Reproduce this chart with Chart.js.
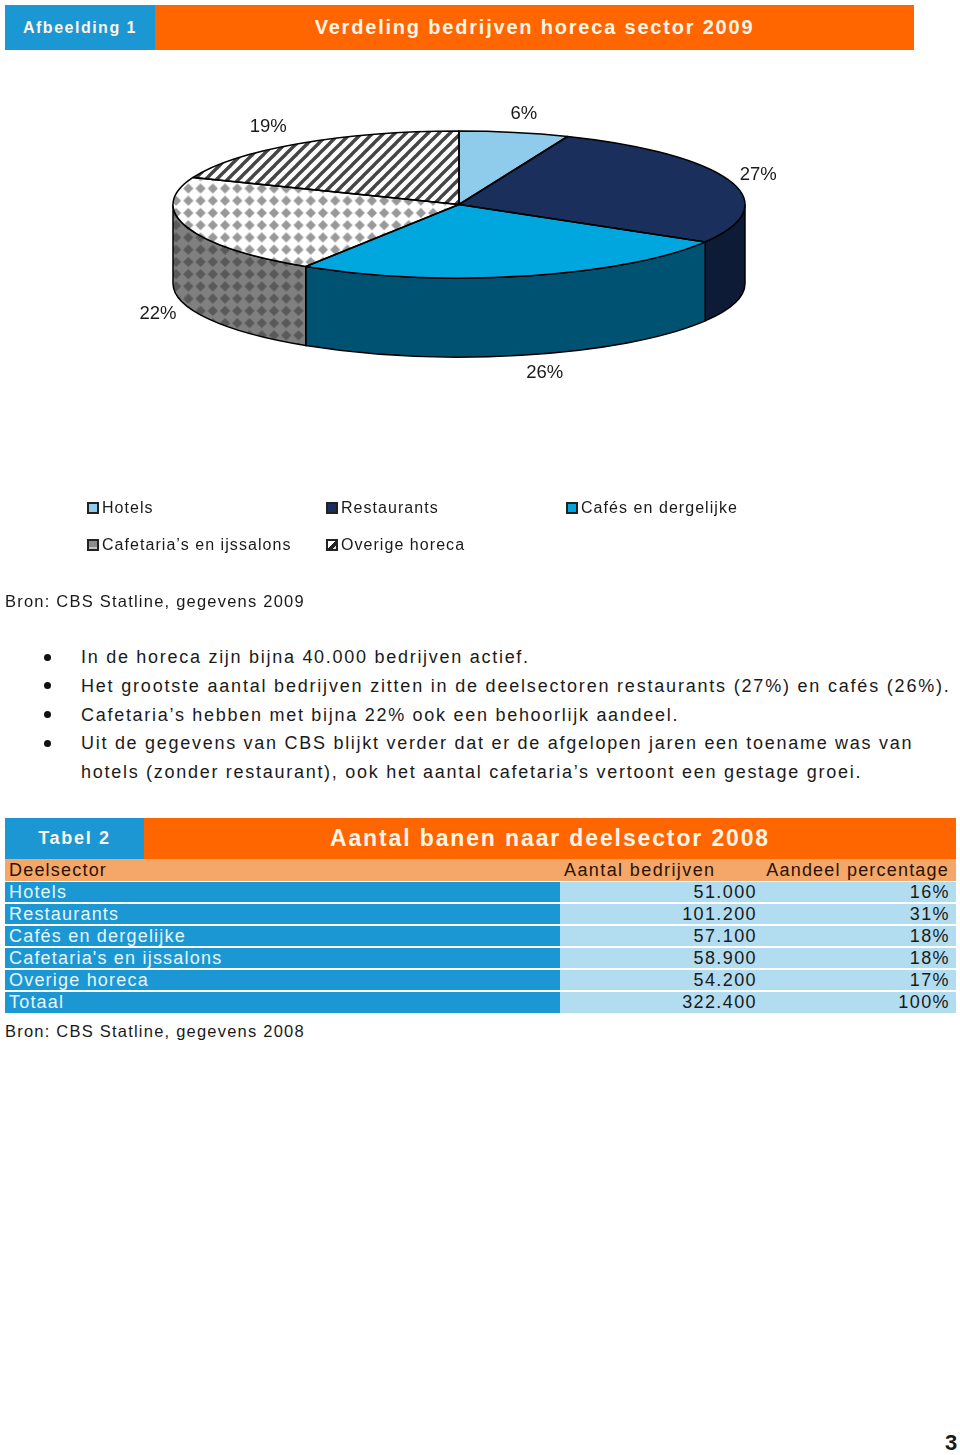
<!DOCTYPE html>
<html lang="nl">
<head>
<meta charset="utf-8">
<title>Verdeling bedrijven horeca sector 2009</title>
<script src="https://cdn.jsdelivr.net/npm/chart.js@4/dist/chart.umd.min.js"></script>
<style>
body { margin: 0; background: #fff; width: 960px; height: 1455px; position: relative; overflow: hidden;
       font-family: "Liberation Sans", Arial, sans-serif; color: #1a1a1a; }
.abs { position: absolute; white-space: nowrap; }
.band { position: absolute; color: #fff4e8; font-weight: bold; text-align: center; }
#pie { position: absolute; left: 0; top: 0; }
.leg { font-size: 16px; letter-spacing: 1.05px; line-height: 20px; }
.swatch { position: absolute; width: 8px; height: 8px; border: 2px solid #222; }
.src { font-size: 16.5px; letter-spacing: 1.22px; line-height: 20px; }
.txt { font-size: 18px; letter-spacing: 1.72px; line-height: 24px; }
.dot { position: absolute; left: 43.5px; width: 7px; height: 7px; border-radius: 50%; background: #111; }
.cell { position: absolute; font-size: 18px; letter-spacing: 1.2px; line-height: 22px; white-space: nowrap; }
.num { letter-spacing: 1.4px; }
.fill { position: absolute; }
</style>
</head>
<body>
<div class="band" style="left:5px;top:5px;width:150px;height:45px;background:#1b98d4;font-size:16px;letter-spacing:1.5px;line-height:45px">Afbeelding 1</div>
<div class="band" style="left:155px;top:5px;width:759px;height:45px;background:#ff6600;font-size:20px;letter-spacing:1.8px;line-height:45px">Verdeling bedrijven horeca sector 2009</div>

<canvas id="pie" width="960" height="600"></canvas>

<div id="legend"></div>
<div class="abs src" style="left:5px;top:591px">Bron: CBS Statline, gegevens 2009</div>
<div id="bullets"></div>

<div class="band" style="left:5px;top:818px;width:139px;height:41px;background:#1b98d4;font-size:18px;letter-spacing:1.7px;line-height:41px">Tabel 2</div>
<div class="band" style="left:144px;top:818px;width:812px;height:41px;background:#ff6600;font-size:23px;letter-spacing:1.87px;line-height:41px">Aantal banen naar deelsector 2008</div>
<div id="table"></div>
<div class="abs src" style="left:5px;top:1021px">Bron: CBS Statline, gegevens 2008</div>
<div class="abs" style="left:945px;top:1431px;font-size:22px;font-weight:bold;line-height:24px">3</div>

<script>
// Pie data, read from the wedge edges (labels show them rounded)
const sectorLabels = ["Hotels", "Restaurants", "Cafés en dergelijke", "Cafetaria’s en ijssalons", "Overige horeca"];
const sectorShares = [6.2, 27.3, 25.5, 22, 19];

// Table data
const tableHeads = ["Deelsector", "Aantal bedrijven", "Aandeel percentage"];
const tableSectors = ["Hotels", "Restaurants", "Cafés en dergelijke", "Cafetaria's en ijssalons", "Overige horeca", "Totaal"];
const tableCompanies = ["51.000", "101.200", "57.100", "58.900", "54.200", "322.400"];
const tablePercents = ["16%", "31%", "18%", "18%", "17%", "100%"];

// Text under the legend
const bulletLines = [
    "In de horeca zijn bijna 40.000 bedrijven actief.",
    "Het grootste aantal bedrijven zitten in de deelsectoren restaurants (27%) en cafés (26%).",
    "Cafetaria’s hebben met bijna 22% ook een behoorlijk aandeel.",
    "Uit de gegevens van CBS blijkt verder dat er de afgelopen jaren een toename was van",
    "hotels (zonder restaurant), ook het aantal cafetaria’s vertoont een gestage groei."
];

// Pie shape on the page
const centerX = 459, centerY = 204.5, radiusY = 73.5, depth = 79;

// Offsets of the % labels from the rim of their wedge
const labelNudge = [[9.5, -18.5], [28, -6], [19, 18], [-29, 8], [-30, -17]];

function tile(size, paint) {
    const c = document.createElement("canvas");
    c.width = c.height = size;
    paint(c.getContext("2d"), size);
    return c;
}

function diamondTile(bg, fg) {
    return tile(12, (g, s) => {
        g.fillStyle = bg;
        g.fillRect(0, 0, s, s);
        g.fillStyle = fg;
        g.beginPath();
        g.moveTo(6, 1);
        g.lineTo(11, 6);
        g.lineTo(6, 11);
        g.lineTo(1, 6);
        g.closePath();
        g.fill();
    });
}

function hatchTile() {
    return tile(11, (g, s) => {
        g.fillStyle = "#fff";
        g.fillRect(0, 0, s, s);
        g.strokeStyle = "#454545";
        g.lineWidth = 3.4;
        // lines run past the tile so their ends leave no notches at the corners
        [-s, 0, s].forEach(off => {
            g.beginPath();
            g.moveTo(off - s, 2 * s);
            g.lineTo(off + 2 * s, -s);
            g.stroke();
        });
    });
}

const ctx = document.getElementById("pie").getContext("2d");
const diamondTop = ctx.createPattern(diamondTile("#fff", "#999"), "repeat");
const diamondWall = ctx.createPattern(diamondTile("#808080", "#595959"), "repeat");
const hatchTop = ctx.createPattern(hatchTile(), "repeat");

// Where the diamond lattice sits on the page
const diamondGrid = new DOMMatrix().translate(-1.42, -1.26).scale(1.02);
diamondWall.setTransform(diamondGrid);

const topColors = ["#8fcbea", "#1a2f5c", "#00a6de", diamondTop, hatchTop];
const wallColors = ["#6d9ab2", "#0e1b36", "#005272", diamondWall, "#666666"];

// Squashes the pie into an ellipse and adds the wall under its front half
const tiltPlugin = {
    id: "tilt",
    beforeDatasetsDraw(chart) {
        const c = chart.ctx;
        const arcs = chart.getDatasetMeta(0).data;
        const rx = arcs[0].outerRadius;
        c.lineWidth = 1.5;
        c.strokeStyle = "#000";
        arcs.forEach((arc, i) => {
            const a0 = Math.max(arc.startAngle, 0);
            const a1 = Math.min(arc.endAngle, Math.PI);
            if (a1 <= a0) return;
            c.beginPath();
            c.ellipse(centerX, centerY, rx, radiusY, 0, a0, a1);
            c.ellipse(centerX, centerY + depth, rx, radiusY, 0, a1, a0, true);
            c.closePath();
            c.fillStyle = wallColors[i];
            c.fill();
            c.stroke();
        });
        c.save();
        c.translate(centerX, centerY);
        c.scale(1, radiusY / rx);
        c.translate(-arcs[0].x, -arcs[0].y);
        // keep the top patterns unsquashed
        const undo = c.getTransform().inverse();
        diamondTop.setTransform(undo.multiply(diamondGrid));
        hatchTop.setTransform(undo);
    },
    afterDatasetsDraw(chart) {
        const c = chart.ctx;
        c.restore();
        const arcs = chart.getDatasetMeta(0).data;
        c.lineWidth = 1.5;
        c.strokeStyle = "#000";
        c.lineJoin = "round";
        arcs.forEach(arc => {
            c.beginPath();
            c.moveTo(centerX, centerY);
            c.ellipse(centerX, centerY, arc.outerRadius, radiusY, 0, arc.startAngle, arc.endAngle);
            c.closePath();
            c.stroke();
        });
        // % labels
        c.fillStyle = "#1a1a1a";
        c.font = '18.5px "Liberation Sans", Arial, sans-serif';
        c.textAlign = "center";
        c.textBaseline = "middle";
        arcs.forEach((arc, i) => {
            const mid = (arc.startAngle + arc.endAngle) / 2;
            const sin = Math.sin(mid);
            const x = centerX + arc.outerRadius * Math.cos(mid) + labelNudge[i][0];
            const y = centerY + radiusY * sin + (sin > 0 ? depth : 0) + labelNudge[i][1];
            c.fillText(Math.round(chart.data.datasets[0].data[i]) + "%", x, y);
        });
    }
};

const chart = new Chart(ctx, {
    type: "pie",
    data: {
        labels: sectorLabels,
        datasets: [{ data: sectorShares, backgroundColor: topColors, borderWidth: 0, hoverOffset: 0 }]
    },
    options: {
        responsive: false,
        animation: false,
        layout: { padding: { left: 0, right: 42, top: 14, bottom: 14 } },
        plugins: { legend: { display: false }, tooltip: { enabled: false } }
    },
    plugins: [tiltPlugin]
});

// Legend, three columns
const legendBox = document.getElementById("legend");
const swatchStyles = [
    "background:#8fcbea",
    "background:#1a2f5c",
    "background:#00a6de",
    "background:linear-gradient(#8c8c8c 75%,#c4c4c4 75%)",
    "background:linear-gradient(135deg,#fff 48%,#222 48%,#222 78%,#ddd 78%)"
];
sectorLabels.forEach((label, i) => {
    const left = [87, 326, 566][i % 3];
    const top = i < 3 ? 502 : 539;
    legendBox.insertAdjacentHTML("beforeend",
        `<div class="swatch" style="left:${left}px;top:${top}px;${swatchStyles[i]}"></div>` +
        `<div class="abs leg" style="left:${left + 15}px;top:${top - 4}px">${label}</div>`);
});

// Bullet list
const bulletBox = document.getElementById("bullets");
bulletLines.forEach((line, i) => {
    const top = 645 + i * 28.8;
    const extra = i === 1 ? "letter-spacing:1.8px;" : "";
    if (i < 4) bulletBox.insertAdjacentHTML("beforeend", `<div class="dot" style="top:${top + 8.5}px"></div>`);
    bulletBox.insertAdjacentHTML("beforeend", `<div class="abs txt" style="${extra}left:81px;top:${top}px">${line}</div>`);
});

// Table rows
const tableBox = document.getElementById("table");
function addFill(left, top, width, height, color) {
    tableBox.insertAdjacentHTML("beforeend",
        `<div class="fill" style="left:${left}px;top:${top}px;width:${width}px;height:${height}px;background:${color}"></div>`);
}
function addCell(style, text, color, cls) {
    tableBox.insertAdjacentHTML("beforeend", `<div class="cell ${cls || ""}" style="${style};color:${color}">${text}</div>`);
}
addFill(5, 859, 951, 22, "#f5a669");
addCell("left:9px;top:859px", tableHeads[0], "#2a1405");
addCell("left:564px;top:859px", tableHeads[1], "#2a1405", "num");
addCell("right:11px;top:859px", tableHeads[2], "#2a1405");
tableSectors.forEach((name, i) => {
    const top = 881.5 + i * 22;
    const height = i === tableSectors.length - 1 ? 21.5 : 20.5;
    addFill(5, top, 555, height, "#1b98d4");
    addFill(560, top, 396, height - 0.5, "#b2dcf0");
    addCell(`left:9px;top:${top - 0.5}px`, name, "#e8f5fb");
    addCell(`right:203px;top:${top - 0.5}px`, tableCompanies[i], "#1a1a1a", "num");
    addCell(`right:10px;top:${top - 0.5}px`, tablePercents[i], "#1a1a1a", "num");
});
</script>
</body>
</html>
